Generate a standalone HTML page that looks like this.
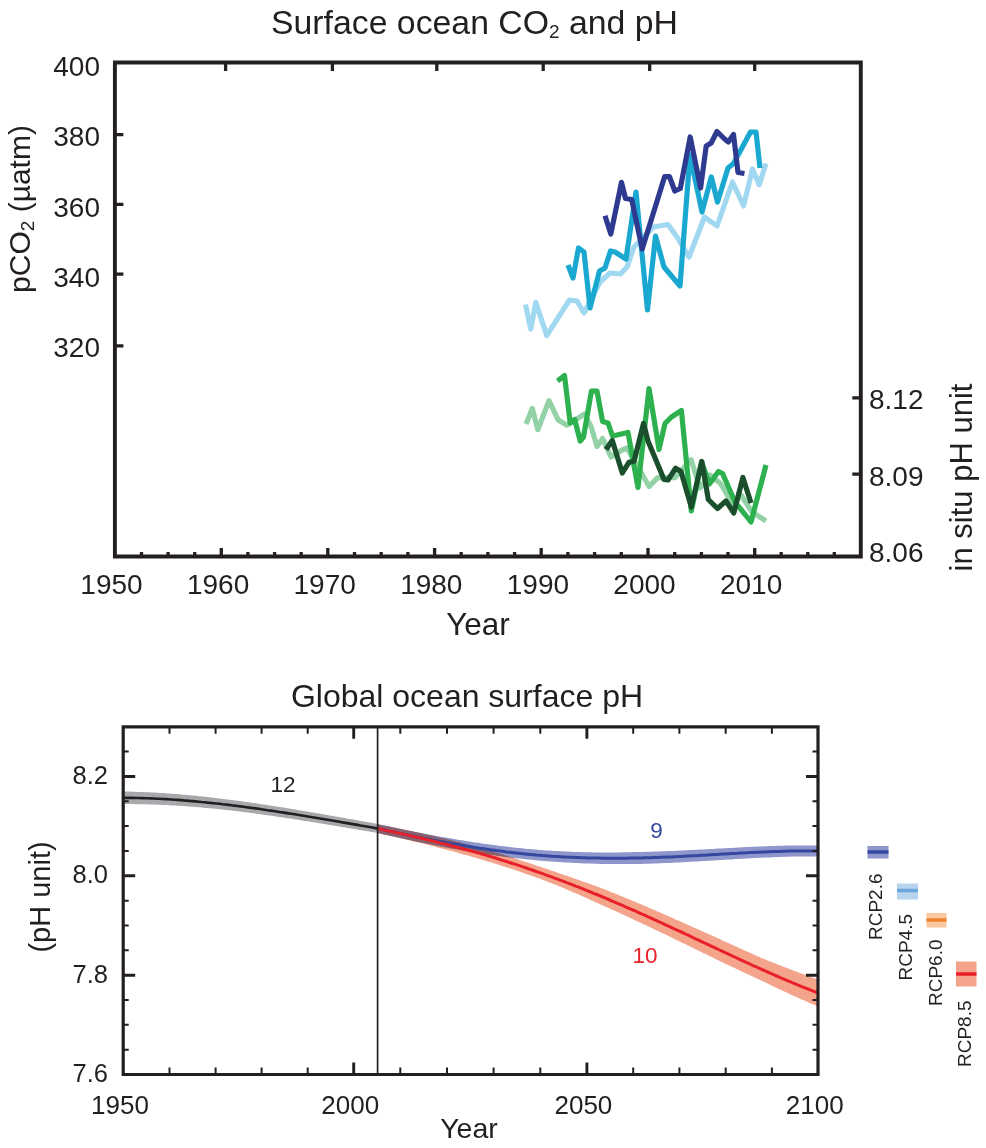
<!DOCTYPE html>
<html><head><meta charset="utf-8">
<style>
html,body{margin:0;padding:0;background:#fff;overflow:hidden;}
svg{display:block;}
text{font-family:"Liberation Sans",sans-serif;fill:#231f20;}
</style></head>
<body>
<svg width="986" height="1148" viewBox="0 0 986 1148">
<text x="271" y="34" font-size="33.8">Surface ocean CO<tspan font-size="19" dy="4">2</tspan><tspan dy="-4"> and pH</tspan></text>
<polyline points="525.5,304.5 530.7,329 535.8,302.4 546.7,335.5 569.5,300 577,301 584,313 600,282 610,273 620.5,274 627,267 634,247 653.5,227 668,224.5 677,237 689,257 704.5,217 717,226 732.5,182 743.6,206 752.5,169 759.2,184.7 766,163.5" fill="none" stroke="#9fd8f0" stroke-width="5.2" stroke-linejoin="round" stroke-linecap="butt"/>
<polyline points="568,265 573,278 578.5,248 584,252 590,308 599.5,271 605,268 610.5,251 615,252 626,259 636,192 647.5,310 655.5,236 664,267 680,286 690,155 702,212 711.3,177 717.5,202 728,168 733.5,163.5 750.5,132 756,132 760,168" fill="none" stroke="#1ba8d0" stroke-width="5.2" stroke-linejoin="round" stroke-linecap="butt"/>
<polyline points="605,215.8 610.8,234 621.5,182.4 625.5,198.5 631.7,199.5 642.2,249 664.6,176.7 669.5,176.7 674.8,191 680.3,188.5 690.2,137 700.6,188 706.2,146 711.2,143 717,131.5 724.6,139 728.3,142 733.5,134.5 738,172.5 744.5,173.5" fill="none" stroke="#2e3990" stroke-width="5.2" stroke-linejoin="round" stroke-linecap="butt"/>
<polyline points="526.1,424 532.3,408.5 537.8,429.7 549,400.7 558,419.7 567,425.2 584.7,414 591.4,427.5 597,446.4 602.6,438.6 611,457 622,450 627,448 649.2,486.5 657.7,477.6 675,477.6 691.1,459.8 700,488 710,475 720.5,483.5 733,505 741,495 752,512 766,521" fill="none" stroke="#93d1a6" stroke-width="5.2" stroke-linejoin="round" stroke-linecap="butt"/>
<polyline points="557.5,381 564.5,375.5 570.2,423 574.7,419.5 580.2,441 583.5,437 591.4,391.2 597,391.2 602.6,421.5 608,423 612.5,436 628,432.5 638,487.5 649,388.5 659,449.5 665,423.5 671.4,417 681.4,410.5 691.3,511 701.5,462 709.4,484 718.5,471.5 722.6,473.5 735,502 751,522 766,465" fill="none" stroke="#2cb14e" stroke-width="5.2" stroke-linejoin="round" stroke-linecap="butt"/>
<polyline points="606,449.5 612.3,440.5 622.3,473 628.9,462.4 634,461.3 643.5,423.5 648,441 664,479.5 668,480 675.6,468.2 681,471.5 691.3,507 701.8,461.5 708.3,499.5 717.5,508.5 726,501 733.8,513 742.9,477.5 751,503" fill="none" stroke="#1b4e2c" stroke-width="5.2" stroke-linejoin="round" stroke-linecap="butt"/>
<path d="M114.9 62.5 V556.5 H860.8 V62.5 Z" fill="none" stroke="#231f20" stroke-width="3.9"/>
<path d="M221.3 556.5 v-8.6 M327.8 556.5 v-8.6 M434.6 556.5 v-8.6 M541.2 556.5 v-8.6 M648 556.5 v-8.6 M754.7 556.5 v-8.6 M225.6 62.5 v8.5 M332.4 62.5 v8.5 M436.8 62.5 v8.5 M543.2 62.5 v8.5 M649.7 62.5 v8.5 M754.7 62.5 v8.5 M141.5 556.5 v-4.6 M168.1 556.5 v-4.6 M194.7 556.5 v-4.6 M247.9 556.5 v-4.6 M274.6 556.5 v-4.6 M301.2 556.5 v-4.6 M354.5 556.5 v-4.6 M381.2 556.5 v-4.6 M407.9 556.5 v-4.6 M461.2 556.5 v-4.6 M487.9 556.5 v-4.6 M514.6 556.5 v-4.6 M567.9 556.5 v-4.6 M594.6 556.5 v-4.6 M621.3 556.5 v-4.6 M674.7 556.5 v-4.6 M701.4 556.5 v-4.6 M728 556.5 v-4.6 M781.2 556.5 v-4.6 M807.8 556.5 v-4.6 M834.3 556.5 v-4.6 M114.9 134.6 h8.5 M114.9 204.3 h8.5 M114.9 274.1 h8.5 M114.9 345.8 h8.5 M860.8 397.8 h-8.5 M860.8 474.2 h-8.5" fill="none" stroke="#231f20" stroke-width="3.3"/>
<g font-size="28" text-anchor="end"><text x="100" y="76">400</text><text x="100" y="146">380</text><text x="100" y="217">360</text><text x="100" y="287">340</text><text x="100" y="357">320</text></g>
<g font-size="28"><text x="869" y="409">8.12</text><text x="869" y="485.5">8.09</text><text x="869" y="562">8.06</text></g>
<g font-size="28" text-anchor="middle"><text x="111.5" y="594">1950</text><text x="218.1" y="594">1960</text><text x="324.7" y="594">1970</text><text x="431.3" y="594">1980</text><text x="537.9" y="594">1990</text><text x="644.5" y="594">2000</text><text x="751.1" y="594">2010</text></g>
<text x="478" y="635" font-size="31.5" text-anchor="middle">Year</text>
<text transform="translate(30,209) rotate(-90)" font-size="30" text-anchor="middle">pCO<tspan font-size="19" dy="4">2</tspan><tspan dy="-4"> (µatm)</tspan></text>
<text transform="translate(972,477.5) rotate(-90)" font-size="31" text-anchor="middle">in situ pH unit</text>
<text x="467" y="706.5" font-size="32" text-anchor="middle">Global ocean surface pH</text>
<polygon points="123.5,791.5 125.5,791.6 127.5,791.6 129.5,791.6 131.5,791.7 133.5,791.7 135.5,791.8 137.5,791.9 139.5,791.9 141.5,792 143.5,792.1 145.5,792.2 147.5,792.2 149.5,792.3 151.5,792.4 153.5,792.5 155.5,792.6 157.5,792.8 159.5,792.9 161.5,793 163.5,793.1 165.5,793.3 167.5,793.4 169.5,793.5 171.5,793.7 173.5,793.8 175.5,794 177.5,794.1 179.5,794.3 181.5,794.5 183.5,794.7 185.5,794.8 187.5,795 189.5,795.2 191.5,795.4 193.5,795.6 195.5,795.8 197.5,796 199.5,796.2 201.5,796.4 203.5,796.6 205.5,796.8 207.5,797.1 209.5,797.3 211.5,797.5 213.5,797.7 215.5,798 217.5,798.2 219.5,798.5 221.5,798.7 223.5,799 225.5,799.2 227.5,799.5 229.5,799.7 231.5,800 233.5,800.2 235.5,800.5 237.5,800.8 239.5,801 241.5,801.3 243.5,801.6 245.5,801.9 247.5,802.1 249.5,802.4 251.5,802.7 253.5,803 255.5,803.3 257.5,803.6 259.5,803.9 261.5,804.2 263.5,804.5 265.5,804.8 267.5,805.1 269.5,805.4 271.5,805.7 273.5,806 275.5,806.3 277.5,806.6 279.5,806.9 281.5,807.3 283.5,807.6 285.5,807.9 287.5,808.2 289.5,808.5 291.5,808.9 293.5,809.2 295.5,809.5 297.5,809.9 299.5,810.2 301.5,810.5 303.5,810.9 305.5,811.2 307.5,811.6 309.5,811.9 311.5,812.2 313.5,812.6 315.5,812.9 317.5,813.3 319.5,813.6 321.5,814 323.5,814.3 325.5,814.7 327.5,815 329.5,815.4 331.5,815.7 333.5,816.1 335.5,816.4 337.5,816.8 339.5,817.1 341.5,817.5 343.5,817.8 345.5,818.2 347.5,818.6 349.5,818.9 351.5,819.3 353.5,819.6 355.5,820 357.5,820.3 359.5,820.7 361.5,821.1 363.5,821.4 365.5,821.8 367.5,822.1 369.5,822.5 371.5,822.8 373.5,823.2 375.5,823.6 377.5,823.9 377.6,823.9 377.6,832.9 377.5,832.9 375.5,832.6 373.5,832.2 371.5,831.9 369.5,831.6 367.5,831.2 365.5,830.9 363.5,830.6 361.5,830.2 359.5,829.9 357.5,829.6 355.5,829.2 353.5,828.9 351.5,828.5 349.5,828.2 347.5,827.9 345.5,827.5 343.5,827.2 341.5,826.9 339.5,826.5 337.5,826.2 335.5,825.9 333.5,825.5 331.5,825.2 329.5,824.9 327.5,824.6 325.5,824.2 323.5,823.9 321.5,823.6 319.5,823.2 317.5,822.9 315.5,822.6 313.5,822.3 311.5,821.9 309.5,821.6 307.5,821.3 305.5,821 303.5,820.7 301.5,820.4 299.5,820 297.5,819.7 295.5,819.4 293.5,819.1 291.5,818.8 289.5,818.5 287.5,818.2 285.5,817.9 283.5,817.6 281.5,817.3 279.5,817 277.5,816.7 275.5,816.4 273.5,816.1 271.5,815.8 269.5,815.5 267.5,815.2 265.5,815 263.5,814.7 261.5,814.4 259.5,814.1 257.5,813.9 255.5,813.6 253.5,813.3 251.5,813 249.5,812.8 247.5,812.5 245.5,812.3 243.5,812 241.5,811.8 239.5,811.5 237.5,811.3 235.5,811 233.5,810.8 231.5,810.5 229.5,810.3 227.5,810.1 225.5,809.9 223.5,809.6 221.5,809.4 219.5,809.2 217.5,809 215.5,808.8 213.5,808.6 211.5,808.4 209.5,808.2 207.5,808 205.5,807.9 203.5,807.7 201.5,807.5 199.5,807.3 197.5,807.2 195.5,807 193.5,806.8 191.5,806.7 189.5,806.5 187.5,806.4 185.5,806.2 183.5,806.1 181.5,806 179.5,805.8 177.5,805.7 175.5,805.6 173.5,805.5 171.5,805.4 169.5,805.2 167.5,805.1 165.5,805 163.5,804.9 161.5,804.9 159.5,804.8 157.5,804.7 155.5,804.6 153.5,804.5 151.5,804.5 149.5,804.4 147.5,804.4 145.5,804.3 143.5,804.3 141.5,804.2 139.5,804.2 137.5,804.2 135.5,804.2 133.5,804.1 131.5,804.1 129.5,804.1 127.5,804.1 125.5,804.1 123.5,804.1" fill="#a7a9ac"/>
<polygon points="377.6,824 379.6,824.4 381.6,824.9 383.6,825.3 385.6,825.7 387.6,826.2 389.6,826.6 391.6,827 393.6,827.4 395.6,827.8 397.6,828.3 399.6,828.7 401.6,829.1 403.6,829.5 405.6,829.9 407.6,830.3 409.6,830.7 411.6,831.1 413.6,831.5 415.6,831.9 417.6,832.3 419.6,832.7 421.6,833.1 423.6,833.5 425.6,833.9 427.6,834.3 429.6,834.7 431.6,835 433.6,835.4 435.6,835.8 437.6,836.2 439.6,836.5 441.6,836.9 443.6,837.2 445.6,837.6 447.6,837.9 449.6,838.3 451.6,838.6 453.6,839 455.6,839.3 457.6,839.7 459.6,840 461.6,840.3 463.6,840.6 465.6,841 467.6,841.3 469.6,841.6 471.6,841.9 473.6,842.2 475.6,842.5 477.6,842.8 479.6,843.1 481.6,843.4 483.6,843.7 485.6,844 487.6,844.3 489.6,844.5 491.6,844.8 493.6,845.1 495.6,845.3 497.6,845.6 499.6,845.9 501.6,846.1 503.6,846.3 505.6,846.6 507.6,846.8 509.6,847 511.6,847.3 513.6,847.5 515.6,847.7 517.6,847.9 519.6,848.1 521.6,848.3 523.6,848.5 525.6,848.7 527.6,848.9 529.6,849.1 531.6,849.3 533.6,849.5 535.6,849.6 537.6,849.8 539.6,849.9 541.6,850.1 543.6,850.2 545.6,850.4 547.6,850.5 549.6,850.6 551.6,850.8 553.6,850.9 555.6,851 557.6,851.1 559.6,851.2 561.6,851.3 563.6,851.4 565.6,851.5 567.6,851.6 569.6,851.7 571.6,851.8 573.6,851.9 575.6,851.9 577.6,852 579.6,852 581.6,852.1 583.6,852.2 585.6,852.2 587.6,852.2 589.6,852.3 591.6,852.3 593.6,852.4 595.6,852.4 597.6,852.4 599.6,852.4 601.6,852.4 603.6,852.4 605.6,852.4 607.6,852.4 609.6,852.4 611.6,852.4 613.6,852.4 615.6,852.4 617.6,852.4 619.6,852.4 621.6,852.3 623.6,852.3 625.6,852.3 627.6,852.2 629.6,852.2 631.6,852.2 633.6,852.1 635.6,852.1 637.6,852 639.6,852 641.6,851.9 643.6,851.9 645.6,851.8 647.6,851.8 649.6,851.7 651.6,851.7 653.6,851.6 655.6,851.5 657.6,851.5 659.6,851.4 661.6,851.3 663.6,851.3 665.6,851.2 667.6,851.1 669.6,851 671.6,850.9 673.6,850.9 675.6,850.8 677.6,850.7 679.6,850.6 681.6,850.5 683.6,850.4 685.6,850.3 687.6,850.2 689.6,850.1 691.6,850 693.6,849.9 695.6,849.8 697.6,849.7 699.6,849.6 701.6,849.5 703.6,849.4 705.6,849.3 707.6,849.2 709.6,849.1 711.6,849 713.6,848.9 715.6,848.7 717.6,848.6 719.6,848.5 721.6,848.4 723.6,848.3 725.6,848.2 727.6,848.1 729.6,848 731.6,847.9 733.6,847.8 735.6,847.7 737.6,847.5 739.6,847.4 741.6,847.3 743.6,847.2 745.6,847.1 747.6,847 749.6,846.9 751.6,846.8 753.6,846.8 755.6,846.7 757.6,846.6 759.6,846.5 761.6,846.4 763.6,846.3 765.6,846.2 767.6,846.2 769.6,846.1 771.6,846 773.6,845.9 775.6,845.9 777.6,845.8 779.6,845.8 781.6,845.7 783.6,845.7 785.6,845.6 787.6,845.6 789.6,845.5 791.6,845.5 793.6,845.5 795.6,845.4 797.6,845.4 799.6,845.4 801.6,845.4 803.6,845.4 805.6,845.4 807.6,845.4 809.6,845.4 811.6,845.4 813.6,845.5 815.6,845.5 817.6,845.5 818,845.5 818,856.5 817.6,856.5 815.6,856.5 813.6,856.5 811.6,856.5 809.6,856.5 807.6,856.5 805.6,856.5 803.6,856.5 801.6,856.5 799.6,856.5 797.6,856.5 795.6,856.6 793.6,856.6 791.6,856.6 789.6,856.7 787.6,856.7 785.6,856.8 783.6,856.8 781.6,856.9 779.6,857 777.6,857 775.6,857.1 773.6,857.2 771.6,857.3 769.6,857.4 767.6,857.4 765.6,857.5 763.6,857.6 761.6,857.7 759.6,857.8 757.6,857.9 755.6,858 753.6,858.1 751.6,858.2 749.6,858.3 747.6,858.4 745.6,858.5 743.6,858.7 741.6,858.8 739.6,858.9 737.6,859 735.6,859.1 733.6,859.2 731.6,859.4 729.6,859.5 727.6,859.6 725.6,859.7 723.6,859.8 721.6,860 719.6,860.1 717.6,860.2 715.6,860.3 713.6,860.4 711.6,860.6 709.6,860.7 707.6,860.8 705.6,860.9 703.6,861 701.6,861.2 699.6,861.3 697.6,861.4 695.6,861.5 693.6,861.6 691.6,861.7 689.6,861.8 687.6,862 685.6,862.1 683.6,862.2 681.6,862.3 679.6,862.4 677.6,862.5 675.6,862.6 673.6,862.7 671.6,862.8 669.6,862.9 667.6,863 665.6,863 663.6,863.1 661.6,863.2 659.6,863.3 657.6,863.4 655.6,863.4 653.6,863.5 651.6,863.6 649.6,863.7 647.6,863.7 645.6,863.8 643.6,863.8 641.6,863.9 639.6,863.9 637.6,864 635.6,864 633.6,864 631.6,864 629.6,864.1 627.6,864.1 625.6,864.1 623.6,864.1 621.6,864.1 619.6,864.1 617.6,864.1 615.6,864.1 613.6,864.1 611.6,864 609.6,864 607.6,864 605.6,864 603.6,863.9 601.6,863.9 599.6,863.9 597.6,863.8 595.6,863.8 593.6,863.7 591.6,863.6 589.6,863.6 587.6,863.5 585.6,863.4 583.6,863.4 581.6,863.3 579.6,863.2 577.6,863.1 575.6,863 573.6,862.9 571.6,862.8 569.6,862.7 567.6,862.6 565.6,862.5 563.6,862.4 561.6,862.2 559.6,862.1 557.6,862 555.6,861.8 553.6,861.7 551.6,861.5 549.6,861.4 547.6,861.2 545.6,861.1 543.6,860.9 541.6,860.7 539.6,860.5 537.6,860.4 535.6,860.2 533.6,860 531.6,859.8 529.6,859.6 527.6,859.4 525.6,859.2 523.6,859 521.6,858.8 519.6,858.6 517.6,858.4 515.6,858.1 513.6,857.9 511.6,857.7 509.6,857.4 507.6,857.2 505.6,856.9 503.6,856.7 501.6,856.4 499.6,856.1 497.6,855.9 495.6,855.6 493.6,855.3 491.6,855.1 489.6,854.8 487.6,854.5 485.6,854.2 483.6,853.9 481.6,853.6 479.6,853.3 477.6,853 475.6,852.6 473.6,852.3 471.6,852 469.6,851.7 467.6,851.3 465.6,851 463.6,850.7 461.6,850.3 459.6,850 457.6,849.6 455.6,849.3 453.6,848.9 451.6,848.5 449.6,848.2 447.6,847.8 445.6,847.4 443.6,847 441.6,846.7 439.6,846.3 437.6,845.9 435.6,845.5 433.6,845.1 431.6,844.7 429.6,844.3 427.6,843.9 425.6,843.5 423.6,843.1 421.6,842.7 419.6,842.2 417.6,841.8 415.6,841.4 413.6,841 411.6,840.5 409.6,840.1 407.6,839.7 405.6,839.3 403.6,838.8 401.6,838.4 399.6,837.9 397.6,837.5 395.6,837.1 393.6,836.6 391.6,836.2 389.6,835.7 387.6,835.3 385.6,834.8 383.6,834.4 381.6,833.9 379.6,833.5 377.6,833" fill="#8e96cb"/>
<polygon points="377.6,824.2 379.6,824.6 381.6,825 383.6,825.4 385.6,825.7 387.6,826.1 389.6,826.5 391.6,826.9 393.6,827.3 395.6,827.7 397.6,828.2 399.6,828.6 401.6,829 403.6,829.4 405.6,829.8 407.6,830.2 409.6,830.7 411.6,831.1 413.6,831.5 415.6,831.9 417.6,832.4 419.6,832.8 421.6,833.3 423.6,833.7 425.6,834.2 427.6,834.6 429.6,835.1 431.6,835.5 433.6,836 435.6,836.4 437.6,836.9 439.6,837.4 441.6,837.9 443.6,838.3 445.6,838.8 447.6,839.3 449.6,839.8 451.6,840.3 453.6,840.8 455.6,841.3 457.6,841.8 459.6,842.3 461.6,842.8 463.6,843.4 465.6,843.9 467.6,844.4 469.6,845 471.6,845.5 473.6,846.1 475.6,846.6 477.6,847.2 479.6,847.7 481.6,848.3 483.6,848.9 485.6,849.5 487.6,850 489.6,850.6 491.6,851.2 493.6,851.8 495.6,852.4 497.6,853 499.6,853.6 501.6,854.2 503.6,854.8 505.6,855.4 507.6,856.1 509.6,856.7 511.6,857.3 513.6,858 515.6,858.6 517.6,859.2 519.6,859.9 521.6,860.5 523.6,861.2 525.6,861.9 527.6,862.5 529.6,863.2 531.6,863.9 533.6,864.6 535.6,865.2 537.6,865.9 539.6,866.6 541.6,867.3 543.6,868 545.6,868.6 547.6,869.3 549.6,870 551.6,870.7 553.6,871.3 555.6,872 557.6,872.7 559.6,873.4 561.6,874.1 563.6,874.8 565.6,875.4 567.6,876.1 569.6,876.8 571.6,877.5 573.6,878.2 575.6,878.9 577.6,879.5 579.6,880.2 581.6,881 583.6,881.7 585.6,882.4 587.6,883.1 589.6,883.8 591.6,884.5 593.6,885.3 595.6,886 597.6,886.7 599.6,887.5 601.6,888.2 603.6,889 605.6,889.8 607.6,890.6 609.6,891.4 611.6,892.2 613.6,893 615.6,893.8 617.6,894.6 619.6,895.4 621.6,896.2 623.6,897.1 625.6,897.9 627.6,898.7 629.6,899.5 631.6,900.4 633.6,901.2 635.6,902 637.6,902.9 639.6,903.7 641.6,904.6 643.6,905.4 645.6,906.3 647.6,907.1 649.6,908 651.6,908.9 653.6,909.7 655.6,910.6 657.6,911.5 659.6,912.3 661.6,913.2 663.6,914.1 665.6,915 667.6,915.8 669.6,916.7 671.6,917.6 673.6,918.5 675.6,919.4 677.6,920.3 679.6,921.1 681.6,922 683.6,922.9 685.6,923.8 687.6,924.7 689.6,925.6 691.6,926.5 693.6,927.4 695.6,928.3 697.6,929.2 699.6,930.1 701.6,931 703.6,931.9 705.6,932.8 707.6,933.6 709.6,934.5 711.6,935.4 713.6,936.3 715.6,937.2 717.6,938.1 719.6,939 721.6,939.9 723.6,940.9 725.6,941.8 727.6,942.7 729.6,943.6 731.6,944.5 733.6,945.4 735.6,946.3 737.6,947.3 739.6,948.2 741.6,949.1 743.6,950 745.6,950.9 747.6,951.8 749.6,952.7 751.6,953.6 753.6,954.5 755.6,955.4 757.6,956.3 759.6,957.1 761.6,958 763.6,958.8 765.6,959.6 767.6,960.4 769.6,961.2 771.6,962 773.6,962.8 775.6,963.6 777.6,964.4 779.6,965.2 781.6,966 783.6,966.8 785.6,967.6 787.6,968.3 789.6,969.1 791.6,969.9 793.6,970.6 795.6,971.4 797.6,972.1 799.6,972.9 801.6,973.6 803.6,974.3 805.6,975.1 807.6,975.8 809.6,976.5 811.6,977.2 813.6,977.9 815.6,978.6 817.6,979.3 818,979.4 818,1006.4 817.6,1006.3 815.6,1005.4 813.6,1004.6 811.6,1003.7 809.6,1002.9 807.6,1002 805.6,1001.1 803.6,1000.3 801.6,999.4 799.6,998.5 797.6,997.6 795.6,996.7 793.6,995.8 791.6,994.9 789.6,994 787.6,993 785.6,992.1 783.6,991.2 781.6,990.3 779.6,989.3 777.6,988.4 775.6,987.4 773.6,986.5 771.6,985.5 769.6,984.6 767.6,983.6 765.6,982.6 763.6,981.7 761.6,980.7 759.6,979.7 757.6,978.8 755.6,977.9 753.6,977 751.6,976.1 749.6,975.1 747.6,974.2 745.6,973.3 743.6,972.3 741.6,971.4 739.6,970.5 737.6,969.5 735.6,968.6 733.6,967.6 731.6,966.7 729.6,965.7 727.6,964.8 725.6,963.9 723.6,962.9 721.6,962 719.6,961 717.6,960 715.6,959 713.6,958.1 711.6,957.1 709.6,956.1 707.6,955.1 705.6,954.1 703.6,953.2 701.6,952.2 699.6,951.2 697.6,950.2 695.6,949.2 693.6,948.3 691.6,947.3 689.6,946.3 687.6,945.3 685.6,944.3 683.6,943.4 681.6,942.4 679.6,941.4 677.6,940.5 675.6,939.5 673.6,938.5 671.6,937.5 669.6,936.6 667.6,935.6 665.6,934.6 663.6,933.7 661.6,932.7 659.6,931.8 657.6,930.8 655.6,929.9 653.6,928.9 651.6,927.9 649.6,927 647.6,926.1 645.6,925.1 643.6,924.2 641.6,923.2 639.6,922.3 637.6,921.4 635.6,920.4 633.6,919.5 631.6,918.5 629.6,917.6 627.6,916.7 625.6,915.8 623.6,914.8 621.6,913.9 619.6,913 617.6,912.1 615.6,911.2 613.6,910.3 611.6,909.4 609.6,908.5 607.6,907.6 605.6,906.7 603.6,905.8 601.6,904.9 599.6,904 597.6,903.1 595.6,902.2 593.6,901.3 591.6,900.4 589.6,899.5 587.6,898.6 585.6,897.7 583.6,896.8 581.6,895.9 579.6,895 577.6,894.1 575.6,893.3 573.6,892.4 571.6,891.5 569.6,890.7 567.6,889.8 565.6,888.9 563.6,888.1 561.6,887.2 559.6,886.4 557.6,885.6 555.6,884.8 553.6,884 551.6,883.2 549.6,882.5 547.6,881.7 545.6,880.9 543.6,880.1 541.6,879.4 539.6,878.6 537.6,877.9 535.6,877.2 533.6,876.5 531.6,875.8 529.6,875.1 527.6,874.4 525.6,873.7 523.6,873 521.6,872.3 519.6,871.6 517.6,871 515.6,870.3 513.6,869.6 511.6,869 509.6,868.3 507.6,867.7 505.6,867 503.6,866.4 501.6,865.7 499.6,865.1 497.6,864.5 495.6,863.8 493.6,863.2 491.6,862.6 489.6,862 487.6,861.4 485.6,860.8 483.6,860.2 481.6,859.6 479.6,859 477.6,858.4 475.6,857.8 473.6,857.2 471.6,856.7 469.6,856.1 467.6,855.5 465.6,855 463.6,854.4 461.6,853.9 459.6,853.3 457.6,852.7 455.6,852.2 453.6,851.6 451.6,851.1 449.6,850.5 447.6,850 445.6,849.5 443.6,848.9 441.6,848.4 439.6,847.9 437.6,847.4 435.6,846.9 433.6,846.3 431.6,845.8 429.6,845.3 427.6,844.8 425.6,844.3 423.6,843.8 421.6,843.3 419.6,842.8 417.6,842.4 415.6,841.9 413.6,841.4 411.6,840.9 409.6,840.4 407.6,840 405.6,839.5 403.6,839 401.6,838.6 399.6,838.1 397.6,837.6 395.6,837.2 393.6,836.7 391.6,836.3 389.6,835.8 387.6,835.4 385.6,834.9 383.6,834.5 381.6,834.1 379.6,833.6 377.6,833.2" fill="#f4a48b" style="mix-blend-mode:multiply"/>
<polyline points="123.5,797.8 126.5,797.9 129.5,797.9 132.5,797.9 135.5,798 138.5,798 141.5,798.1 144.5,798.2 147.5,798.3 150.5,798.4 153.5,798.5 156.5,798.7 159.5,798.8 162.5,799 165.5,799.1 168.5,799.3 171.5,799.5 174.5,799.7 177.5,799.9 180.5,800.1 183.5,800.4 186.5,800.6 189.5,800.9 192.5,801.1 195.5,801.4 198.5,801.7 201.5,802 204.5,802.2 207.5,802.6 210.5,802.9 213.5,803.2 216.5,803.5 219.5,803.8 222.5,804.2 225.5,804.5 228.5,804.9 231.5,805.3 234.5,805.6 237.5,806 240.5,806.4 243.5,806.8 246.5,807.2 249.5,807.6 252.5,808 255.5,808.4 258.5,808.8 261.5,809.3 264.5,809.7 267.5,810.2 270.5,810.6 273.5,811 276.5,811.5 279.5,812 282.5,812.4 285.5,812.9 288.5,813.4 291.5,813.8 294.5,814.3 297.5,814.8 300.5,815.3 303.5,815.8 306.5,816.3 309.5,816.8 312.5,817.3 315.5,817.8 318.5,818.3 321.5,818.8 324.5,819.3 327.5,819.8 330.5,820.3 333.5,820.8 336.5,821.3 339.5,821.8 342.5,822.4 345.5,822.9 348.5,823.4 351.5,823.9 354.5,824.4 357.5,824.9 360.5,825.5 363.5,826 366.5,826.5 369.5,827 372.5,827.5 375.5,828.1 377.6,828.4" fill="none" stroke="#231f20" stroke-width="2.6"/>
<polyline points="377.6,828.5 380.6,829.2 383.6,829.8 386.6,830.5 389.6,831.2 392.6,831.8 395.6,832.5 398.6,833.1 401.6,833.7 404.6,834.4 407.6,835 410.6,835.6 413.6,836.3 416.6,836.9 419.6,837.5 422.6,838.1 425.6,838.7 428.6,839.3 431.6,839.9 434.6,840.4 437.6,841 440.6,841.6 443.6,842.1 446.6,842.7 449.6,843.2 452.6,843.8 455.6,844.3 458.6,844.8 461.6,845.3 464.6,845.8 467.6,846.3 470.6,846.8 473.6,847.3 476.6,847.7 479.6,848.2 482.6,848.6 485.6,849.1 488.6,849.5 491.6,849.9 494.6,850.3 497.6,850.7 500.6,851.1 503.6,851.5 506.6,851.9 509.6,852.2 512.6,852.6 515.6,852.9 518.6,853.2 521.6,853.6 524.6,853.9 527.6,854.2 530.6,854.5 533.6,854.7 536.6,855 539.6,855.2 542.6,855.5 545.6,855.7 548.6,855.9 551.6,856.2 554.6,856.4 557.6,856.5 560.6,856.7 563.6,856.9 566.6,857.1 569.6,857.2 572.6,857.3 575.6,857.5 578.6,857.6 581.6,857.7 584.6,857.8 587.6,857.9 590.6,858 593.6,858 596.6,858.1 599.6,858.1 602.6,858.2 605.6,858.2 608.6,858.2 611.6,858.2 614.6,858.2 617.6,858.2 620.6,858.2 623.6,858.2 626.6,858.2 629.6,858.1 632.6,858.1 635.6,858 638.6,858 641.6,857.9 644.6,857.8 647.6,857.7 650.6,857.7 653.6,857.6 656.6,857.5 659.6,857.3 662.6,857.2 665.6,857.1 668.6,857 671.6,856.9 674.6,856.7 677.6,856.6 680.6,856.4 683.6,856.3 686.6,856.1 689.6,856 692.6,855.8 695.6,855.7 698.6,855.5 701.6,855.3 704.6,855.2 707.6,855 710.6,854.8 713.6,854.6 716.6,854.5 719.6,854.3 722.6,854.1 725.6,854 728.6,853.8 731.6,853.6 734.6,853.4 737.6,853.3 740.6,853.1 743.6,852.9 746.6,852.8 749.6,852.6 752.6,852.5 755.6,852.3 758.6,852.2 761.6,852.1 764.6,851.9 767.6,851.8 770.6,851.7 773.6,851.6 776.6,851.5 779.6,851.4 782.6,851.3 785.6,851.2 788.6,851.1 791.6,851.1 794.6,851 797.6,851 800.6,850.9 803.6,850.9 806.6,850.9 809.6,850.9 812.6,851 815.6,851 818,851" fill="none" stroke="#3448a0" stroke-width="3"/>
<polyline points="377.6,828.7 380.6,829.3 383.6,829.9 386.6,830.6 389.6,831.2 392.6,831.8 395.6,832.5 398.6,833.1 401.6,833.8 404.6,834.4 407.6,835.1 410.6,835.8 413.6,836.5 416.6,837.1 419.6,837.8 422.6,838.5 425.6,839.2 428.6,840 431.6,840.7 434.6,841.4 437.6,842.1 440.6,842.9 443.6,843.6 446.6,844.4 449.6,845.2 452.6,846 455.6,846.7 458.6,847.5 461.6,848.3 464.6,849.2 467.6,850 470.6,850.8 473.6,851.7 476.6,852.5 479.6,853.4 482.6,854.2 485.6,855.1 488.6,856 491.6,856.9 494.6,857.8 497.6,858.7 500.6,859.7 503.6,860.6 506.6,861.5 509.6,862.5 512.6,863.5 515.6,864.4 518.6,865.4 521.6,866.4 524.6,867.4 527.6,868.5 530.6,869.5 533.6,870.5 536.6,871.6 539.6,872.6 542.6,873.7 545.6,874.8 548.6,875.8 551.6,876.9 554.6,878.1 557.6,879.2 560.6,880.3 563.6,881.4 566.6,882.6 569.6,883.7 572.6,884.9 575.6,886.1 578.6,887.2 581.6,888.4 584.6,889.6 587.6,890.8 590.6,892 593.6,893.3 596.6,894.5 599.6,895.7 602.6,897 605.6,898.2 608.6,899.5 611.6,900.8 614.6,902.1 617.6,903.4 620.6,904.6 623.6,905.9 626.6,907.3 629.6,908.6 632.6,909.9 635.6,911.2 638.6,912.6 641.6,913.9 644.6,915.2 647.6,916.6 650.6,917.9 653.6,919.3 656.6,920.7 659.6,922 662.6,923.4 665.6,924.8 668.6,926.2 671.6,927.6 674.6,929 677.6,930.4 680.6,931.7 683.6,933.1 686.6,934.5 689.6,935.9 692.6,937.4 695.6,938.8 698.6,940.2 701.6,941.6 704.6,943 707.6,944.4 710.6,945.8 713.6,947.2 716.6,948.6 719.6,950 722.6,951.4 725.6,952.8 728.6,954.2 731.6,955.6 734.6,957 737.6,958.4 740.6,959.8 743.6,961.2 746.6,962.5 749.6,963.9 752.6,965.3 755.6,966.6 758.6,968 761.6,969.3 764.6,970.7 767.6,972 770.6,973.3 773.6,974.7 776.6,976 779.6,977.3 782.6,978.6 785.6,979.8 788.6,981.1 791.6,982.4 794.6,983.6 797.6,984.9 800.6,986.1 803.6,987.3 806.6,988.5 809.6,989.7 812.6,990.9 815.6,992 818,992.9" fill="none" stroke="#e8202a" stroke-width="3"/>
<line x1="377.6" y1="726.8" x2="377.6" y2="1074.5" stroke="#231f20" stroke-width="1.7"/>
<path d="M123.2 726.8 V1074.5 H818 V726.8 Z" fill="none" stroke="#231f20" stroke-width="3.2"/>
<path d="M169.5 1074.5 v-7 M169.5 726.8 v7 M215.6 1074.5 v-7 M215.6 726.8 v7 M261.6 1074.5 v-7 M261.6 726.8 v7 M307.7 1074.5 v-7 M307.7 726.8 v7 M400.3 1074.5 v-7 M400.3 726.8 v7 M447 1074.5 v-7 M447 726.8 v7 M493.6 1074.5 v-7 M493.6 726.8 v7 M540.3 1074.5 v-7 M540.3 726.8 v7 M633.2 1074.5 v-7 M633.2 726.8 v7 M679.4 1074.5 v-7 M679.4 726.8 v7 M725.7 1074.5 v-7 M725.7 726.8 v7 M771.9 1074.5 v-7 M771.9 726.8 v7 M123.2 1049.7 h5.5 M818 1049.7 h-5.5 M123.2 1024.8 h5.5 M818 1024.8 h-5.5 M123.2 1000 h5.5 M818 1000 h-5.5 M123.2 950.3 h5.5 M818 950.3 h-5.5 M123.2 925.5 h5.5 M818 925.5 h-5.5 M123.2 900.7 h5.5 M818 900.7 h-5.5 M123.2 851 h5.5 M818 851 h-5.5 M123.2 826.1 h5.5 M818 826.1 h-5.5 M123.2 801.3 h5.5 M818 801.3 h-5.5 M123.2 751.6 h5.5 M818 751.6 h-5.5" fill="none" stroke="#231f20" stroke-width="2"/>
<path d="M353.7 1074.5 v-12 M353.7 726.8 v12 M586.9 1074.5 v-12 M586.9 726.8 v12 M123.2 975.2 h12 M818 975.2 h-12 M123.2 875.8 h12 M818 875.8 h-12 M123.2 776.5 h12 M818 776.5 h-12" fill="none" stroke="#231f20" stroke-width="2.9"/>
<g font-size="25.5" text-anchor="end"><text x="108" y="784">8.2</text><text x="108" y="883.3">8.0</text><text x="108" y="982.7">7.8</text><text x="108" y="1082">7.6</text></g>
<g font-size="26" text-anchor="middle"><text x="120" y="1114">1950</text><text x="350.2" y="1114">2000</text><text x="583.4" y="1114">2050</text><text x="814.7" y="1114">2100</text></g>
<text x="469" y="1138" font-size="28.5" text-anchor="middle">Year</text>
<text transform="translate(50,897) rotate(-90)" font-size="29" text-anchor="middle">(pH unit)</text>
<text x="283" y="791.8" font-size="22.5" text-anchor="middle">12</text>
<text x="656.5" y="837.8" font-size="22.5" text-anchor="middle" style="fill:#3448a0">9</text>
<text x="645" y="962.5" font-size="22.5" text-anchor="middle" style="fill:#e8202a">10</text>
<rect x="867.5" y="846" width="21.0" height="12.5" fill="#8e96cb"/><line x1="867.5" y1="852" x2="888.5" y2="852" stroke="#3448a0" stroke-width="3.5"/><text transform="translate(882,940) rotate(-90)" font-size="19" text-anchor="start">RCP2.6</text>
<rect x="897" y="883.5" width="21" height="16.0" fill="#b6d4ee"/><line x1="897" y1="890.5" x2="918" y2="890.5" stroke="#6aa6db" stroke-width="3.5"/><text transform="translate(911.5,980.5) rotate(-90)" font-size="19" text-anchor="start">RCP4.5</text>
<rect x="926.5" y="913" width="20.0" height="14.5" fill="#f9c8a0"/><line x1="926.5" y1="920" x2="946.5" y2="920" stroke="#f0832f" stroke-width="3.5"/><text transform="translate(941.5,1006) rotate(-90)" font-size="19" text-anchor="start">RCP6.0</text>
<rect x="956" y="961.5" width="20.5" height="25.0" fill="#f4a48b"/><line x1="956" y1="974" x2="976.5" y2="974" stroke="#e8202a" stroke-width="3.5"/><text transform="translate(971,1067) rotate(-90)" font-size="19" text-anchor="start">RCP8.5</text>
</svg>
</body></html>
